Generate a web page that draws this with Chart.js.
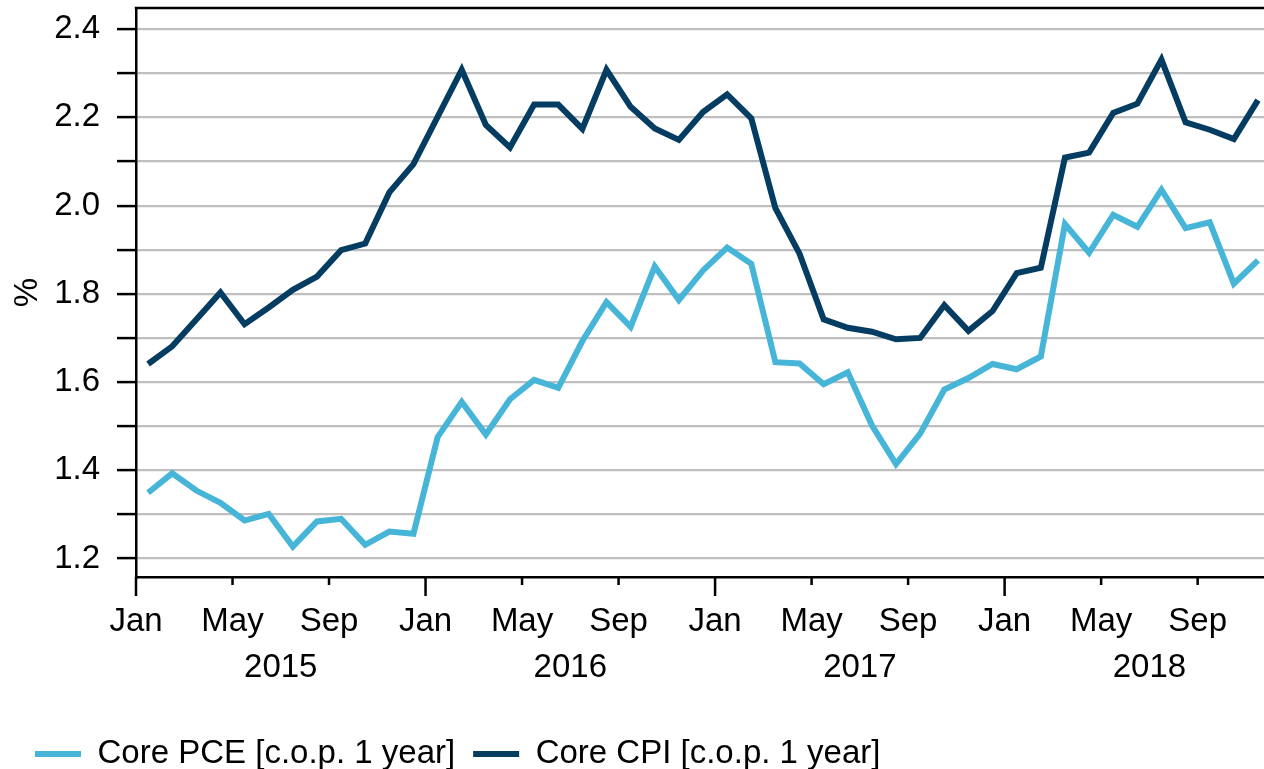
<!DOCTYPE html>
<html>
<head>
<meta charset="utf-8">
<script src="https://cdn.jsdelivr.net/npm/chart.js@4/dist/chart.umd.min.js"></script>
<style>
html,body{margin:0;padding:0;overflow:hidden;background:#fff}
#wrap{width:1264px;height:769px;position:relative}
</style>
</head>
<body>
<div id="wrap"><canvas id="c" width="1264" height="769"></canvas></div>
<script>
// ---- data ----
const months = [
  '2015-01','2015-02','2015-03','2015-04','2015-05','2015-06','2015-07','2015-08','2015-09','2015-10','2015-11','2015-12',
  '2016-01','2016-02','2016-03','2016-04','2016-05','2016-06','2016-07','2016-08','2016-09','2016-10','2016-11','2016-12',
  '2017-01','2017-02','2017-03','2017-04','2017-05','2017-06','2017-07','2017-08','2017-09','2017-10','2017-11','2017-12',
  '2018-01','2018-02','2018-03','2018-04','2018-05','2018-06','2018-07','2018-08','2018-09','2018-10','2018-11'
];
const corePCE = [
  1.349,1.393,1.354,1.326,1.286,1.301,1.227,1.284,1.290,1.231,1.261,1.256,
  1.475,1.555,1.481,1.561,1.605,1.587,1.693,1.781,1.725,1.862,1.786,1.853,
  1.905,1.868,1.645,1.642,1.595,1.622,1.502,1.414,1.483,1.583,1.609,1.641,
  1.629,1.658,1.958,1.893,1.979,1.952,2.036,1.949,1.962,1.823,1.876
];
const coreCPI = [
  1.641,1.681,1.742,1.803,1.731,1.769,1.809,1.839,1.899,1.914,2.030,2.094,
  2.201,2.308,2.183,2.132,2.229,2.229,2.174,2.308,2.224,2.175,2.149,2.212,
  2.252,2.198,1.994,1.891,1.742,1.723,1.714,1.697,1.700,1.774,1.716,1.761,
  1.847,1.859,2.109,2.120,2.210,2.231,2.331,2.189,2.172,2.151,2.239
];
const seriesNames = ['Core PCE [c.o.p. 1 year]', 'Core CPI [c.o.p. 1 year]'];
const monthTickValues = [0,4,8,12,16,20,24,28,32,36,40,44];
const monthTickLabels = ['Jan','May','Sep'];
const yearTickValues = [6,18,30,42];
const yearTickLabels = ['2015','2016','2017','2018'];
const yTickValues = [1.2,1.3,1.4,1.5,1.6,1.7,1.8,1.9,2.0,2.1,2.2,2.3,2.4];

// ---- chart ----
const FONT = "'Liberation Sans', Arial, sans-serif";
const f33 = {family: FONT, size: 33};
const X_MIN = 0, X_MAX = 46.75;

// month index (mid-month) from 'YYYY-MM'
const monthPos = m => (parseInt(m.slice(0,4)) - 2015) * 12 + parseInt(m.slice(5,7)) - 1 + 0.5;
const toPoints = arr => arr.map((v, i) => ({x: monthPos(months[i]), y: v}));

const framePlugin = {
  id: 'frame',
  afterDraw(chart) {
    const {ctx, chartArea: a, scales: {x}} = chart;
    ctx.save();
    ctx.strokeStyle = '#000';
    ctx.lineWidth = 2.5;
    ctx.beginPath();
    ctx.moveTo(a.left - 1.25, a.top);
    ctx.lineTo(a.right, a.top);
    x.ticks.forEach(t => {
      const px = x.getPixelForValue(t.value);
      const len = (t.value % 12 === 0) ? 19 : 8;
      ctx.moveTo(px, a.bottom);
      ctx.lineTo(px, a.bottom + len);
    });
    ctx.stroke();
    ctx.restore();
  }
};

new Chart(document.getElementById('c'), {
  type: 'line',
  data: {
    datasets: [
      {label: seriesNames[0], data: toPoints(corePCE), borderColor: '#46B5D8', backgroundColor: '#46B5D8',
       borderWidth: 6, pointRadius: 0, tension: 0, borderJoinStyle: 'miter', borderCapStyle: 'butt'},
      {label: seriesNames[1], data: toPoints(coreCPI), borderColor: '#053C61', backgroundColor: '#053C61',
       borderWidth: 6, pointRadius: 0, tension: 0, borderJoinStyle: 'miter', borderCapStyle: 'butt'}
    ]
  },
  options: {
    responsive: false,
    animation: false,
    devicePixelRatio: 1,
    parsing: false,
    layout: {padding: {left: 17, right: 0, top: 8, bottom: -11.5}},
    plugins: {
      tooltip: {enabled: false},
      legend: {
        position: 'bottom',
        align: 'start',
        labels: {
          font: {family: FONT, size: 33},
          color: '#000',
          boxWidth: 46,
          boxHeight: 6,
          padding: 18,
          generateLabels(chart) {
            return chart.data.datasets.map((d, i) => ({
              text: d.label, fillStyle: d.borderColor, strokeStyle: d.borderColor,
              lineWidth: 0, hidden: false, datasetIndex: i
            }));
          }
        }
      }
    },
    scales: {
      x: {
        type: 'linear', position: 'bottom', min: X_MIN, max: X_MAX, weight: 0,
        afterBuildTicks(s) { s.ticks = monthTickValues.map(v => ({value: v})); },
        ticks: {
          autoSkip: false, maxRotation: 0, minRotation: 0, padding: 25.5, color: '#000', font: f33,
          callback(v) { return monthTickLabels[Math.round(v / 4) % 3]; }
        },
        grid: {drawOnChartArea: false, drawTicks: false},
        border: {color: '#000', width: 2.5},
        afterFit(s) { s.height = 69; s.paddingLeft = 0; s.paddingRight = 0; }
      },
      x2: {
        type: 'linear', position: 'bottom', min: X_MIN, max: X_MAX, weight: 1,
        afterBuildTicks(s) { s.ticks = yearTickValues.map(v => ({value: v})); },
        ticks: {
          autoSkip: false, maxRotation: 0, minRotation: 0, padding: 2.5, color: '#000', font: f33,
          callback(v) { return yearTickLabels[yearTickValues.indexOf(v)]; }
        },
        grid: {display: false, drawTicks: false},
        border: {display: false},
        afterFit(s) { s.height = 73.5; s.paddingLeft = 0; s.paddingRight = 0; }
      },
      y: {
        type: 'linear', position: 'left', min: 1.158, max: 2.448,
        afterBuildTicks(s) { s.ticks = yTickValues.map(v => ({value: v})); },
        ticks: {
          padding: 17, color: '#000', font: f33,
          callback(v) { return Math.round(v * 10) % 2 === 0 ? v.toFixed(1) : ''; }
        },
        grid: {color: '#BFBFBF', lineWidth: 2.2, tickColor: '#000', tickLength: 19, tickWidth: 2.5},
        border: {color: '#000', width: 2.5},
        title: {display: true, text: '%', color: '#000', font: f33, padding: {top: -8.5, bottom: 0}},
        afterFit(s) { s.width = 119; s.paddingTop = 0; s.paddingBottom = 0; }
      }
    }
  },
  plugins: [framePlugin]
});
</script>
</body>
</html>
